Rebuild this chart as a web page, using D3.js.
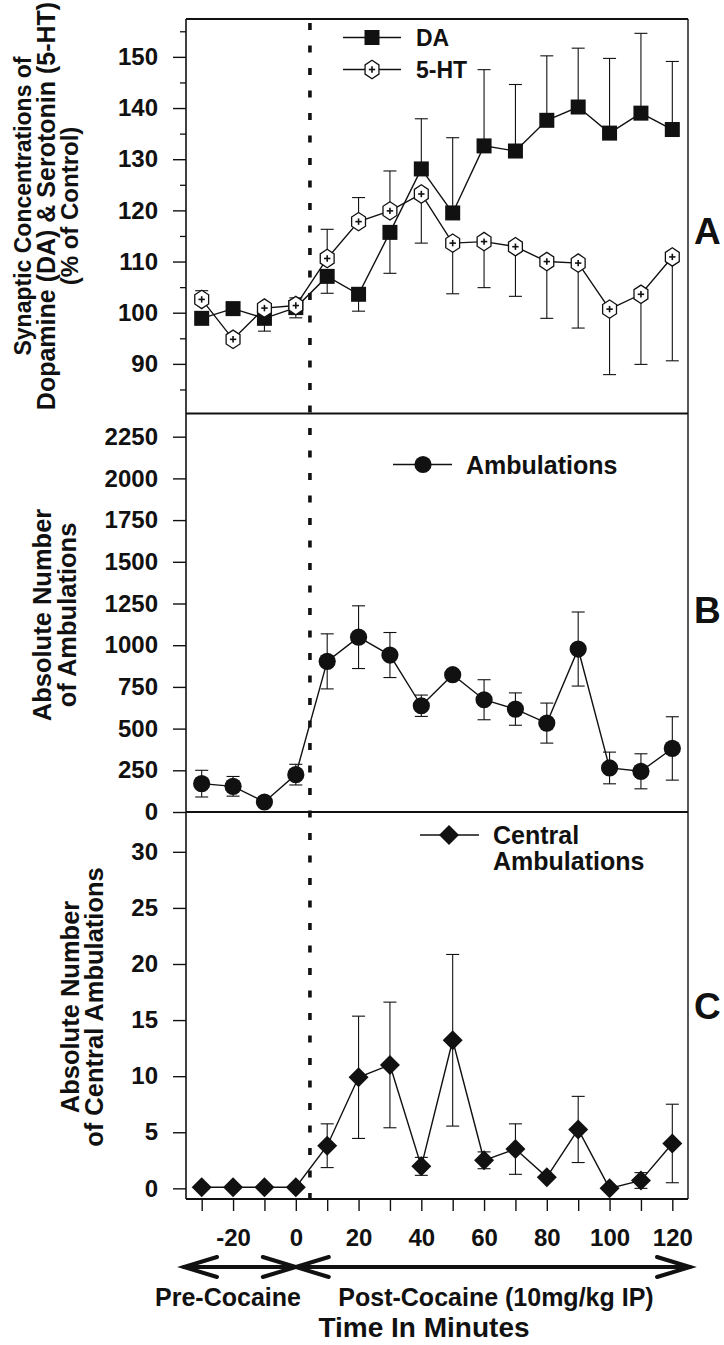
<!DOCTYPE html>
<html>
<head>
<meta charset="utf-8">
<script src="https://cdn.jsdelivr.net/npm/d3@7"></script>
<style>
  html, body { margin: 0; padding: 0; background: #fff; }
  svg text { font-family: "Liberation Sans", Arial, Helvetica, sans-serif; font-weight: bold; fill: #111; }
</style>
</head>
<body>
<script>
// ---------------- DATA ----------------
const timePoints = [-30, -20, -10, 0, 10, 20, 30, 40, 50, 60, 70, 80, 90, 100, 110, 120];

// Panel A: % of control
const daMean    = [98.9, 100.8, 98.9, 101.0, 107.1, 103.6, 115.7, 128.1, 119.5, 132.6, 131.6, 137.6, 140.2, 135.1, 139.0, 135.8];
const daErrUp   = [0, 0, 0, 0, 0, 0, 0, 9.8, 14.7, 14.9, 13.0, 12.6, 11.5, 14.6, 15.6, 13.3];
const daErrDown = [0, 0, 2.5, 2.0, 3.3, 3.3, 8.0, 0, 0, 0, 0, 0, 0, 0, 0, 0];
const htMean    = [102.6, 94.8, 100.9, 101.4, 110.6, 117.8, 119.9, 123.2, 113.6, 113.9, 112.9, 110.0, 109.7, 100.7, 103.6, 110.9];
const htErrUp   = [1.7, 0, 0, 1.5, 5.7, 4.7, 7.8, 0, 0, 0, 0, 0, 0, 0, 0, 0];
const htErrDown = [0, 0, 0, 0, 0, 0, 0, 9.6, 9.9, 9.0, 9.7, 11.1, 12.7, 12.8, 13.7, 20.3];

// Panel B: ambulations
const ambMean = [170, 154, 60, 224, 903, 1048, 941, 637, 823, 673, 617, 533, 977, 264, 244, 381];
const ambErr  = [80, 59, 0, 62, 165, 188, 135, 64, 0, 120, 97, 120, 222, 95, 105, 190];

// Panel C: central ambulations
const centMean = [0.1, 0.1, 0.1, 0.1, 3.8, 9.9, 11.0, 1.96, 13.2, 2.5, 3.5, 1.0, 5.25, 0.0, 0.7, 4.0];
const centErr  = [0, 0, 0, 0, 1.95, 5.45, 5.6, 0.8, 7.65, 0.75, 2.25, 0, 2.95, 0, 0.7, 3.5];

// Ticks
const aMajorTicks = [90, 100, 110, 120, 130, 140, 150];
const aMinorTicks = [85, 95, 105, 115, 125, 135, 145, 155];
const bTicks = [0, 250, 500, 750, 1000, 1250, 1500, 1750, 2000, 2250];
const cTicks = [0, 5, 10, 15, 20, 25, 30];
const xTicks = [-30, -20, -10, 0, 10, 20, 30, 40, 50, 60, 70, 80, 90, 100, 110, 120];
const xTickLabels = ["-20", "0", "20", "40", "60", "80", "100", "120"];
const injectionTime = 4.5;

// Text
const titleA = ["Synaptic Concentrations of", "Dopamine (DA) & Serotonin (5-HT)", "(% of Control)"];
const titleB = ["Absolute Number", "of Ambulations"];
const titleC = ["Absolute Number", "of Central Ambulations"];

// ---------------- LAYOUT ----------------
const W = 724, H = 1345;
const left = 186, right = 688;
const svg = d3.select("body").append("svg").attr("width", W).attr("height", H);

const x = d3.scaleLinear().domain([-35, 125]).range([left, right]);
const yA = d3.scaleLinear().domain([80.4, 157.4]).range([413, 19]);
const yB = d3.scaleLinear().domain([0, 2386]).range([812, 414]);
const yC = d3.scaleLinear().domain([-0.95, 33.55]).range([1199, 812]);

// frame
const frame = svg.append("g").attr("stroke", "#111").attr("fill", "none");
frame.append("line").attr("x1", left).attr("x2", left).attr("y1", 19).attr("y2", 1199).attr("stroke-width", 1.6);
frame.append("line").attr("x1", right).attr("x2", right).attr("y1", 19).attr("y2", 1199).attr("stroke-width", 1.4);
[19, 413.5, 812, 1199].forEach(yy => {
  frame.append("line").attr("x1", left).attr("x2", right).attr("y1", yy).attr("y2", yy).attr("stroke-width", 1.8);
});

// y axes
function yAxis(scale, ticks) {
  const g = svg.append("g").attr("transform", `translate(${left},0)`)
    .call(d3.axisLeft(scale).tickValues(ticks).tickSize(13).tickPadding(15).tickFormat(d => String(d)));
  g.select(".domain").remove();
  g.selectAll(".tick line").attr("stroke", "#111").attr("stroke-width", 1.4);
  g.selectAll(".tick text").style("font-size", "24px").attr("fill", "#111");
  return g;
}
yAxis(yA, aMajorTicks);
const minorA = svg.append("g").attr("transform", `translate(${left},0)`)
  .call(d3.axisLeft(yA).tickValues(aMinorTicks).tickSize(6).tickFormat(""));
minorA.select(".domain").remove();
minorA.selectAll(".tick line").attr("stroke", "#111").attr("stroke-width", 1.3);
yAxis(yB, bTicks);
yAxis(yC, cTicks);

// x axis
const xg = svg.append("g").attr("transform", `translate(0,1199)`)
  .call(d3.axisBottom(x).tickValues(xTicks).tickSize(12).tickPadding(18)
    .tickFormat(d => xTickLabels.includes(String(d)) ? String(d) : ""));
xg.select(".domain").remove();
xg.selectAll(".tick line").attr("stroke", "#111").attr("stroke-width", 1.4);
xg.selectAll(".tick text").style("font-size", "24px").attr("fill", "#111");

// dashed injection line
svg.append("line")
  .attr("x1", x(injectionTime)).attr("x2", x(injectionTime))
  .attr("y1", 23).attr("y2", 1203)
  .attr("stroke", "#111").attr("stroke-width", 3.6)
  .attr("stroke-dasharray", "7 15.5");

// ---------- helpers ----------
const capW = 13;
function errBars(g, yS, means, up, down) {
  means.forEach((m, i) => {
    const cx = x(timePoints[i]);
    if (up[i] > 0) {
      g.append("line").attr("x1", cx).attr("x2", cx).attr("y1", yS(m)).attr("y2", yS(m + up[i]));
      g.append("line").attr("x1", cx - capW / 2).attr("x2", cx + capW / 2).attr("y1", yS(m + up[i])).attr("y2", yS(m + up[i]));
    }
    if (down[i] > 0) {
      g.append("line").attr("x1", cx).attr("x2", cx).attr("y1", yS(m)).attr("y2", yS(m - down[i]));
      g.append("line").attr("x1", cx - capW / 2).attr("x2", cx + capW / 2).attr("y1", yS(m - down[i])).attr("y2", yS(m - down[i]));
    }
  });
}
function seriesLine(g, yS, means) {
  g.append("path")
    .datum(means.map((m, i) => [timePoints[i], m]))
    .attr("fill", "none").attr("stroke", "#111").attr("stroke-width", 1.4)
    .attr("d", d3.line().x(d => x(d[0])).y(d => yS(d[1])));
}
const hexPath = (r) => {
  const pts = d3.range(6).map(k => {
    const a = (-90 + 60 * k) * Math.PI / 180;
    return [r * 0.87 * Math.cos(a), r * Math.sin(a)];
  });
  return "M" + pts.map(p => p.join(",")).join("L") + "Z";
};
function drawSquare(g, cx, cy) {
  g.append("rect").attr("x", cx - 7.5).attr("y", cy - 7.5).attr("width", 15).attr("height", 15).attr("fill", "#111");
}
function drawHex(g, cx, cy) {
  const h = g.append("g").attr("transform", `translate(${cx},${cy})`);
  h.append("path").attr("d", hexPath(9.2)).attr("fill", "#fff").attr("stroke", "#111").attr("stroke-width", 1.3);
  h.append("line").attr("x1", -3.2).attr("x2", 3.2).attr("y1", 0).attr("y2", 0).attr("stroke", "#111").attr("stroke-width", 1.6);
  h.append("line").attr("x1", 0).attr("x2", 0).attr("y1", -3.2).attr("y2", 3.2).attr("stroke", "#111").attr("stroke-width", 1.6);
}
function drawCircle(g, cx, cy) {
  g.append("circle").attr("cx", cx).attr("cy", cy).attr("r", 8.6).attr("fill", "#111");
}
function drawDiamond(g, cx, cy) {
  g.append("path").attr("d", `M${cx},${cy - 10}L${cx + 10},${cy}L${cx},${cy + 10}L${cx - 10},${cy}Z`).attr("fill", "#111");
}

// ---------- Panel A ----------
const gA = svg.append("g");
const eA = gA.append("g").attr("stroke", "#111").attr("stroke-width", 1.1);
errBars(eA, yA, daMean, daErrUp, daErrDown);
errBars(eA, yA, htMean, htErrUp, htErrDown);
seriesLine(gA, yA, daMean);
seriesLine(gA, yA, htMean);
daMean.forEach((m, i) => drawSquare(gA, x(timePoints[i]), yA(m)));
htMean.forEach((m, i) => drawHex(gA, x(timePoints[i]), yA(m)));

// ---------- Panel B ----------
const gB = svg.append("g");
const eB = gB.append("g").attr("stroke", "#111").attr("stroke-width", 1.1);
errBars(eB, yB, ambMean, ambErr, ambErr);
seriesLine(gB, yB, ambMean);
ambMean.forEach((m, i) => drawCircle(gB, x(timePoints[i]), yB(m)));

// ---------- Panel C ----------
const gC = svg.append("g");
const eC = gC.append("g").attr("stroke", "#111").attr("stroke-width", 1.1);
errBars(eC, yC, centMean, centErr, centErr);
seriesLine(gC, yC, centMean);
centMean.forEach((m, i) => drawDiamond(gC, x(timePoints[i]), yC(m)));

// ---------- Legends ----------
const lg = svg.append("g");
function legLine(x1, x2, yy) {
  lg.append("line").attr("x1", x1).attr("x2", x2).attr("y1", yy).attr("y2", yy).attr("stroke", "#111").attr("stroke-width", 1.4);
}
legLine(343, 401, 37.5); drawSquare(lg, 372, 37.5);
lg.append("text").attr("x", 416).attr("y", 37.5).attr("dy", "0.36em").style("font-size", "23px").text("DA");
legLine(343, 401, 69.5); drawHex(lg, 372, 69.5);
lg.append("text").attr("x", 416).attr("y", 69.5).attr("dy", "0.36em").style("font-size", "23px").text("5-HT");
legLine(393, 452, 464.5); drawCircle(lg, 423, 464.5);
lg.append("text").attr("x", 466).attr("y", 464.5).attr("dy", "0.36em").style("font-size", "25px").text("Ambulations");
legLine(420, 479, 835); drawDiamond(lg, 449, 835);
lg.append("text").attr("x", 493).attr("y", 835).attr("dy", "0.36em").style("font-size", "25px").text("Central");
lg.append("text").attr("x", 493).attr("y", 861).attr("dy", "0.36em").style("font-size", "25px").text("Ambulations");

// ---------- Axis titles ----------
function vTitle(lines, xs, cy, sizes) {
  lines.forEach((t, i) => {
    svg.append("text")
      .attr("transform", `translate(${xs[i]},${cy}) rotate(-90)`)
      .attr("text-anchor", "middle").attr("dy", "0.35em")
      .style("font-size", sizes[i] + "px").text(t);
  });
}
vTitle(titleA, [23, 46, 70], 206, [23, 25, 24]);
vTitle(titleB, [42, 67], 615, [25.5, 25.5]);
vTitle(titleC, [70, 94], 1007, [25.5, 25.5]);

// ---------- Panel letters ----------
[["A", 231], ["B", 610], ["C", 1006]].forEach(([t, yy]) => {
  svg.append("text").attr("x", 694).attr("y", yy).attr("dy", "0.36em").style("font-size", "37px").text(t);
});

// ---------- Time arrows ----------
const arrowY = 1267;
const ag = svg.append("g").attr("stroke", "#111").attr("stroke-width", 4).attr("fill", "none").attr("stroke-linecap", "round");
function dblArrow(xa, xb) {
  ag.append("line").attr("x1", xa).attr("x2", xb).attr("y1", arrowY).attr("y2", arrowY);
  ag.append("path").attr("d", `M${xa + 33},${arrowY - 10}L${xa},${arrowY}L${xa + 33},${arrowY + 10}`);
  ag.append("path").attr("d", `M${xb - 33},${arrowY - 10}L${xb},${arrowY}L${xb - 33},${arrowY + 10}`);
}
dblArrow(left - 2, x(0));
dblArrow(x(0), right + 2);

svg.append("text").attr("x", 228).attr("y", 1297).attr("dy", "0.36em").attr("text-anchor", "middle")
  .style("font-size", "25px").text("Pre-Cocaine");
svg.append("text").attr("x", 496).attr("y", 1297).attr("dy", "0.36em").attr("text-anchor", "middle")
  .style("font-size", "25px").text("Post-Cocaine (10mg/kg IP)");
svg.append("text").attr("x", 424).attr("y", 1327).attr("dy", "0.36em").attr("text-anchor", "middle")
  .style("font-size", "28px").text("Time In Minutes");
</script>
</body>
</html>
